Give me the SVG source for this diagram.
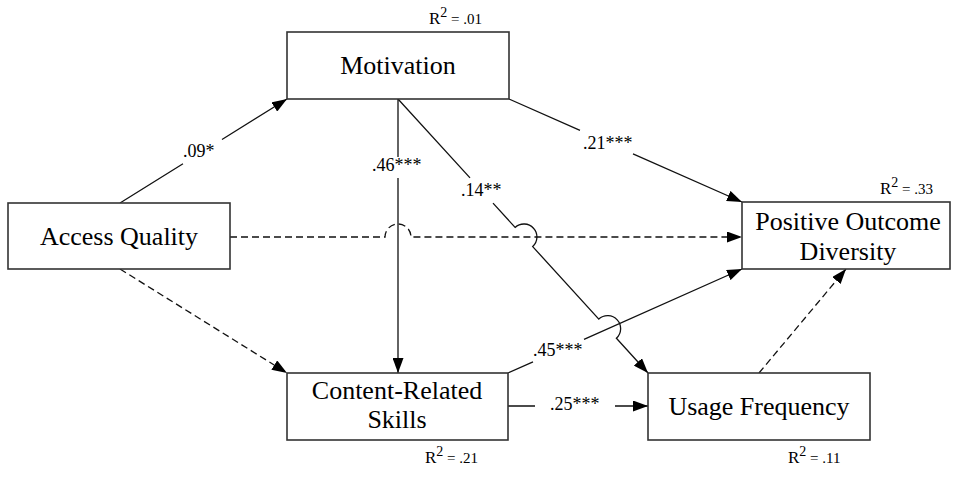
<svg xmlns="http://www.w3.org/2000/svg" width="960" height="483" viewBox="0 0 960 483">
<style>
.box{fill:#fff;stroke:#333;stroke-width:1.6}
.nl{font-family:"Liberation Serif","Times New Roman",serif;font-size:26px;fill:#000;text-anchor:middle}
.el{font-family:"Liberation Serif","Times New Roman",serif;font-size:18px;fill:#000}
.r2{font-family:"Liberation Serif","Times New Roman",serif;fill:#000}
.ln{fill:none;stroke:#111;stroke-width:1.3;marker-end:url(#ah)}
.dash{stroke-dasharray:7 4}
</style>
<defs>
<marker id="ah" markerUnits="userSpaceOnUse" markerWidth="15" markerHeight="11" refX="15" refY="5.5" orient="auto">
<path d="M0,0 L15,5.5 L0,11 z" fill="#000"/>
</marker>
</defs>
<rect width="960" height="483" fill="#fff"/>
<g id="connectors">
<path class="ln" d="M120,203 L183,163.8 M222,139.5 L287,99"/>
<path class="ln" d="M398,99 V157 M398,178 V373"/>
<path class="ln" d="M398,99 L470,177.9 M493,203.1 L515.1,227.4 A13,13 0 0 1 532.7,246.6 L598.8,319.1 A13,13 0 0 1 616.4,338.3 L648,373"/>
<path class="ln" d="M509,99 L580,130.4 M633,153.8 L742,202"/>
<path class="ln dash" d="M230,237 H385 A13,13 0 0 1 411,237 H742"/>
<path class="ln dash" d="M120,269 L287,373"/>
<path class="ln" d="M508,373 L533,361.9 M584,339.3 L742,269"/>
<path class="ln" d="M508,406 H535 M615,406 H648"/>
<path class="ln dash" d="M759,373 L846,269"/>
<text class="el" x="183" y="157">.09*</text>
<text class="el" x="372" y="171">.46***</text>
<text class="el" x="461" y="196">.14**</text>
<text class="el" x="583" y="149">.21***</text>
<text class="el" x="533" y="356">.45***</text>
<text class="el" x="550" y="410">.25***</text>
</g>
<g id="motivation">
<rect class="box" x="287" y="32" width="222" height="67"/>
<text class="nl" x="398" y="74">Motivation</text>
<text class="r2" x="429" y="24"><tspan font-size="17">R</tspan><tspan font-size="14" dy="-7">2</tspan><tspan font-size="15" dy="7"> = .01</tspan></text>
</g>
<g id="access-quality">
<rect class="box" x="8" y="203" width="222" height="66"/>
<text class="nl" x="119" y="245">Access Quality</text>
</g>
<g id="positive-outcome-diversity">
<rect class="box" x="742" y="202" width="208" height="67"/>
<text class="nl" x="848" y="230">Positive Outcome</text>
<text class="nl" x="848" y="260">Diversity</text>
<text class="r2" x="880" y="194"><tspan font-size="17">R</tspan><tspan font-size="14" dy="-7">2</tspan><tspan font-size="15" dy="7"> = .33</tspan></text>
</g>
<g id="content-related-skills">
<rect class="box" x="287" y="373" width="221" height="67"/>
<text class="nl" x="397" y="399">Content-Related</text>
<text class="nl" x="397" y="428">Skills</text>
<text class="r2" x="425" y="463"><tspan font-size="17">R</tspan><tspan font-size="14" dy="-7">2</tspan><tspan font-size="15" dy="7"> = .21</tspan></text>
</g>
<g id="usage-frequency">
<rect class="box" x="648" y="373" width="222" height="67"/>
<text class="nl" x="759" y="415">Usage Frequency</text>
<text class="r2" x="788" y="463"><tspan font-size="17">R</tspan><tspan font-size="14" dy="-7">2</tspan><tspan font-size="15" dy="7"> = .11</tspan></text>
</g>
</svg>
